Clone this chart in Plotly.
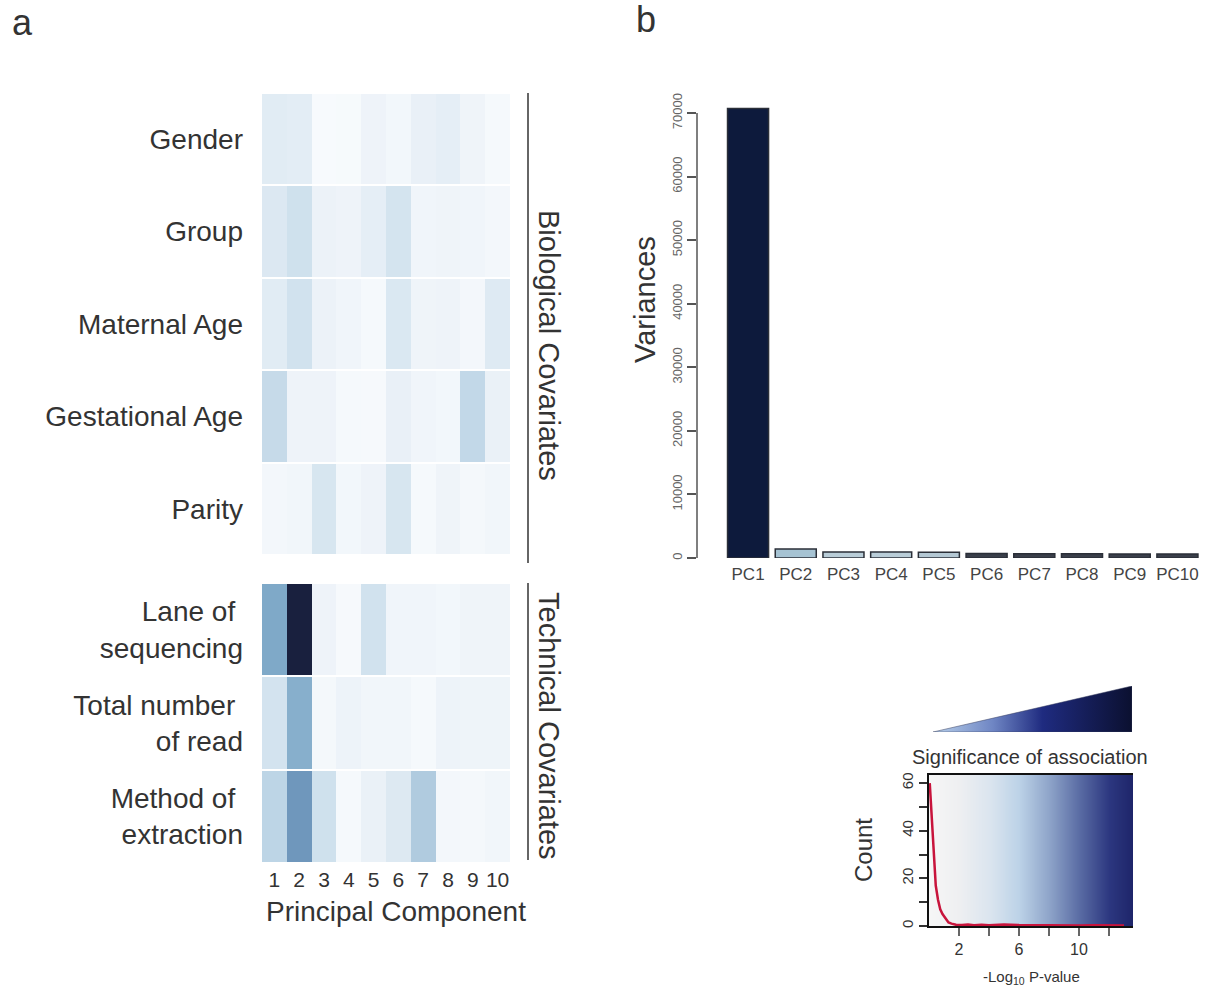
import plotly.graph_objects as go

W, H = 1207, 988

# ---------------- data ----------------
pcs = [1, 2, 3, 4, 5, 6, 7, 8, 9, 10]
bio_rows = ["Gender", "Group", "Maternal Age", "Gestational Age", "Parity"]
bio_vals = [
    [3.0, 2.8, 0.2, 0.3, 1.7, 1.0, 2.3, 2.6, 1.5, 0.5],
    [3.5, 4.4, 2.0, 1.7, 2.6, 4.1, 1.3, 1.5, 1.3, 0.9],
    [3.0, 4.3, 2.0, 1.3, 0.5, 3.6, 1.5, 1.7, 0.8, 3.3],
    [5.0, 1.7, 1.7, 0.5, 0.4, 2.3, 1.3, 1.0, 5.2, 2.2],
    [0.8, 1.1, 3.9, 1.0, 1.7, 3.9, 0.5, 1.5, 0.7, 1.1],
]
tech_rows = ["Lane of <br>sequencing", "Total number <br>of read", "Method of <br>extraction"]
tech_vals = [
    [8.0, 12.8, 1.7, 0.4, 4.3, 1.3, 1.3, 1.0, 1.5, 1.5],
    [4.2, 7.7, 0.7, 1.8, 1.2, 1.2, 0.5, 1.8, 1.6, 1.6],
    [5.5, 8.6, 4.4, 0.5, 2.2, 3.4, 6.2, 0.8, 0.7, 1.1],
]

pc_labels = ["PC1", "PC2", "PC3", "PC4", "PC5", "PC6", "PC7", "PC8", "PC9", "PC10"]
variances = [70700, 1400, 950, 950, 900, 700, 680, 650, 640, 620]
bar_colors = ["#0d1a3c", "#a6c3d3", "#b9cdd8", "#b9cdd8", "#b4c8d4",
              "#3a3f4a", "#3a3f4a", "#3a3f4a", "#3a3f4a", "#3a3f4a"]
var_ticks = [0, 10000, 20000, 30000, 40000, 50000, 60000, 70000]

hist_x = [0.05, 0.15, 0.25, 0.35, 0.45, 0.6, 0.75, 0.9, 1.1, 1.3, 1.5, 1.8, 2.2,
          2.6, 3.0, 3.5, 4.0, 5.0, 6.0, 7.0, 8.0, 9.0, 10.0, 11.0, 12.0, 13.0]
hist_count = [60, 48, 38, 26, 17, 11, 7, 5, 3, 1.5, 1, 0.5, 0.4, 0.6, 0.3, 0.5,
              0.3, 0.6, 0.4, 0.3, 0.2, 0.3, 0.2, 0.3, 0.2, 0.2]
key_x = [0, 1, 2, 3, 4, 5, 6, 7, 8, 9, 10, 11, 12, 13, 14]
hist_xticks = [2, 6, 10]
hist_xminor = [4, 8, 12]
hist_yticks = [0, 20, 40, 60]
hist_yminor = [10, 30, 50]

# heatmap colour scale (value -> colour), zmax 13
heat_stops = [(0, "#f8fbfd"), (2, "#ecf2f8"), (4, "#d6e5f0"), (6, "#b5cfe2"),
              (8, "#7fa9c8"), (10, "#4a6d9f"), (12, "#233260"), (13, "#161b36")]
ZMAX = 13
heat_scale = [[v / ZMAX, c] for v, c in heat_stops]

key_stops = [(0, "#f6f6f6"), (2, "#eeeff1"), (4, "#dbe5ef"), (6, "#bcd2e7"),
             (8, "#8ea4c9"), (10, "#5a6ca4"), (12, "#2c3780"), (14, "#1a2063")]
key_scale = [[v / 14, c] for v, c in key_stops]

FONT = "Liberation Sans, Arial, sans-serif"


def px(x):
    return x / W


def py(y):
    return 1 - y / H


fig = go.Figure()

# ---------------- panel a: heatmaps ----------------
fig.add_trace(go.Heatmap(z=bio_vals, x=pcs, y=bio_rows, zmin=0, zmax=ZMAX,
                         colorscale=heat_scale, showscale=False, ygap=2,
                         xaxis="x", yaxis="y", hoverinfo="skip"))
fig.add_trace(go.Heatmap(z=tech_vals, x=pcs, y=tech_rows, zmin=0, zmax=ZMAX,
                         colorscale=heat_scale, showscale=False, ygap=2,
                         xaxis="x2", yaxis="y2", hoverinfo="skip"))

# ---------------- panel b: bar chart ----------------
fig.add_trace(go.Bar(x=pc_labels, y=variances, marker=dict(color=bar_colors,
                     line=dict(color="#2b2f38", width=1.5)),
                     xaxis="x3", yaxis="y3", width=0.86, hoverinfo="skip"))

# ---------------- colour key histogram ----------------
fig.add_trace(go.Heatmap(z=[key_x, key_x], x=key_x, y=[0, 70], zmin=0, zmax=14,
                         colorscale=key_scale, showscale=False, zsmooth="best",
                         xaxis="x4", yaxis="y4", hoverinfo="skip"))
fig.add_trace(go.Scatter(x=hist_x, y=hist_count, mode="lines",
                         line=dict(color="#c8143c", width=2.5),
                         xaxis="x4", yaxis="y4", hoverinfo="skip"))

# gradient triangle
fig.add_trace(go.Scatter(x=[0, 1, 1, 0], y=[0, 0, 1, 0], mode="lines", fill="toself",
                         fillgradient=dict(type="horizontal",
                                           colorscale=[[0, "#b8d0ea"], [0.3, "#6f86c4"],
                                                       [0.55, "#1f2b80"], [1, "#0b1030"]]),
                         line=dict(color="#3a4060", width=0.5),
                         xaxis="x5", yaxis="y5", hoverinfo="skip"))

hide = dict(showgrid=False, zeroline=False, showticklabels=False, ticks="",
            showline=False, automargin=False)

layout = dict(
    width=W, height=H, margin=dict(l=0, r=0, t=0, b=0, pad=0), autosize=False,
    paper_bgcolor="white", plot_bgcolor="white", showlegend=False,
    font=dict(family=FONT, color="#333333"),
    # bio heatmap
    xaxis=dict(domain=[px(262), px(510)], range=[0.5, 10.5], anchor="y", **hide),
    yaxis=dict(domain=[py(555), py(93)], anchor="x", autorange="reversed", showgrid=False,
               zeroline=False, ticks="", showline=False, ticklabelstandoff=18,
               automargin=False, tickfont=dict(size=28, color="#333333")),
    # tech heatmap
    xaxis2=dict(domain=[px(262), px(510)], anchor="y2", range=[0.5, 10.5], showgrid=False,
                zeroline=False, ticks="", showline=False, tickvals=pcs, automargin=False,
                tickfont=dict(size=21, color="#333333"), ticklabelstandoff=2),
    yaxis2=dict(domain=[py(863), py(583)], anchor="x2", autorange="reversed", showgrid=False,
                zeroline=False, ticks="", showline=False, ticklabelstandoff=18,
                automargin=False, tickfont=dict(size=28, color="#333333")),
    # bar chart
    xaxis3=dict(domain=[px(697), 1], anchor="y3", range=[-1.07, 9.62], showgrid=False,
                zeroline=False, ticks="", showline=False, automargin=False,
                tickfont=dict(size=17, color="#444444"), ticklabelstandoff=4),
    yaxis3=dict(domain=[py(558), py(100)], anchor="x3", range=[0, 72045], showgrid=False,
                zeroline=False, showline=False, ticks="outside", ticklen=9,
                tickcolor="#555555", tickwidth=1.5, tickvals=var_ticks,
                ticktext=[str(v) for v in var_ticks], automargin=False,
                tickangle=-90, tickfont=dict(size=13, color="#666666")),
    # histogram key
    xaxis4=dict(domain=[px(929), px(1133)], anchor="y4", range=[0, 13.6], showgrid=False,
                zeroline=False, showline=True, linecolor="#111111", linewidth=1.5,
                mirror=True, ticks="outside", ticklen=8, tickcolor="#666666",
                tickwidth=1.5, tickvals=hist_xticks, automargin=False,
                minor=dict(tickvals=hist_xminor, ticks="outside", ticklen=8,
                           tickcolor="#666666", tickwidth=1.5, showgrid=False),
                tickfont=dict(size=16, color="#333333")),
    yaxis4=dict(domain=[py(926), py(775)], anchor="x4", range=[0, 63.4], showgrid=False,
                zeroline=False, showline=True, linecolor="#111111", linewidth=1.5,
                ticks="outside", ticklen=8, tickcolor="#333333", tickwidth=1.5,
                tickvals=hist_yticks, automargin=False,
                minor=dict(tickvals=hist_yminor, ticks="outside", ticklen=8,
                           tickcolor="#333333", tickwidth=1.5, showgrid=False),
                tickangle=-90, tickfont=dict(size=15, color="#333333")),
    # triangle
    xaxis5=dict(domain=[px(933), px(1132)], anchor="y5", range=[0, 1], **hide),
    yaxis5=dict(domain=[py(732), py(686)], anchor="x5", range=[0, 1], **hide),
)
fig.update_layout(**layout)

# y-axis line of bar chart spanning 0..70000
fig.add_shape(type="line", xref="paper", yref="y3", x0=px(697), x1=px(697),
              y0=0, y1=70000, line=dict(color="#555555", width=1.5))
# covariate brackets
fig.add_shape(type="line", xref="paper", yref="paper", x0=px(528), x1=px(528),
              y0=py(93), y1=py(563), line=dict(color="#666666", width=2))
fig.add_shape(type="line", xref="paper", yref="paper", x0=px(528), x1=px(528),
              y0=py(583), y1=py(860), line=dict(color="#666666", width=2))

ann = [
    dict(text="a", x=px(22), y=py(22), size=36),
    dict(text="b", x=px(646), y=py(20), size=36),
    dict(text="Biological Covariates", x=px(549), y=py(345), size=29, angle=90),
    dict(text="Technical Covariates", x=px(549), y=py(726), size=29, angle=90),
    dict(text="Principal Component", x=px(396), y=py(911), size=28),
    dict(text="Variances", x=px(645), y=py(300), size=29, angle=-90),
    dict(text="Significance of association", x=px(1030), y=py(757), size=20),
    dict(text="Count", x=px(863), y=py(850), size=24, angle=-90),
    dict(text="-Log<sub>10</sub> P-value", x=px(1031), y=py(977), size=15),
]
for a in ann:
    fig.add_annotation(text=a["text"], x=a["x"], y=a["y"], xref="paper", yref="paper",
                       showarrow=False, xanchor="center", yanchor="middle",
                       textangle=a.get("angle", 0),
                       font=dict(size=a["size"], color="#333333", family=FONT))

fig.write_html("out.html")
